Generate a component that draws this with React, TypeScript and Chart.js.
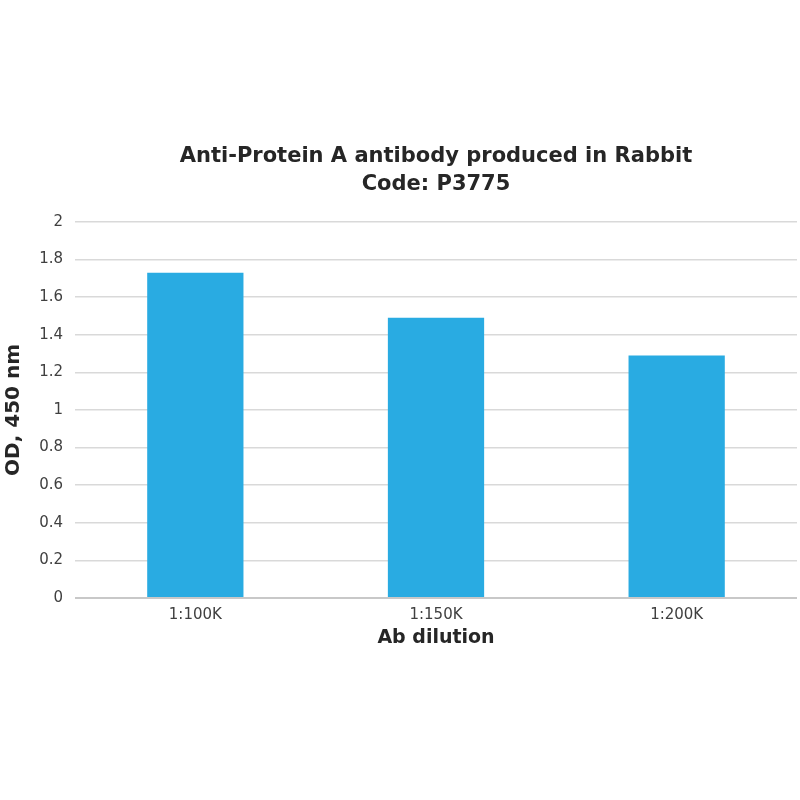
import React, { useRef, useEffect } from 'react';
import { Chart, registerables } from 'chart.js';

Chart.register(...registerables);

// Data
const dilutions = ['1:100K', '1:150K', '1:200K'];
const odValues = [1.73, 1.49, 1.29];
const titleLines = ['Anti-Protein A antibody produced in Rabbit', 'Code: P3775'];

const FONT = "'DejaVu Sans', Verdana, sans-serif";

const App = () => {
    const canvasRef = useRef<HTMLCanvasElement>(null);
    const chartRef = useRef<Chart | null>(null);

    useEffect(() => {
        const ctx = canvasRef.current?.getContext('2d');
        if (!ctx) return;
        if (chartRef.current) chartRef.current.destroy();

        chartRef.current = new Chart(ctx, {
            type: 'bar',
            data: {
                labels: dilutions,
                datasets: [
                    {
                        label: 'OD, 450 nm',
                        data: odValues,
                        backgroundColor: '#29ABE2',
                        barPercentage: 0.4,
                        categoryPercentage: 1,
                    },
                ],
            },
            options: {
                responsive: false,
                animation: false,
                layout: {
                    padding: { top: 143, right: 3, bottom: 142, left: 0 },
                },
                scales: {
                    x: {
                        grid: { display: false, drawTicks: false },
                        border: { display: false },
                        ticks: {
                            color: '#404040',
                            font: { family: FONT, size: 15 },
                            padding: 8,
                        },
                        title: {
                            display: true,
                            text: 'Ab dilution',
                            color: '#262626',
                            font: { family: FONT, size: 19, weight: 'bold' },
                            padding: { top: 0, bottom: 9 },
                        },
                        afterFit: (scale) => {
                            scale.height = 60;
                        },
                    },
                    y: {
                        min: 0,
                        max: 2,
                        grid: {
                            drawTicks: false,
                            color: (c) => (c.tick && c.tick.value === 0 ? '#c8c8c8' : '#d9d9d9'),
                            lineWidth: (c) => (c.tick && c.tick.value === 0 ? 2 : 1.5),
                        },
                        border: { display: false },
                        ticks: {
                            stepSize: 0.2,
                            color: '#404040',
                            font: { family: FONT, size: 15 },
                            padding: 12,
                            callback: (v) => String(Math.round(Number(v) * 10) / 10),
                        },
                        title: {
                            display: true,
                            text: 'OD, 450 nm',
                            color: '#262626',
                            font: { family: FONT, size: 20, weight: 'bold' },
                            padding: { top: 2, bottom: 0 },
                        },
                        afterFit: (scale) => {
                            scale.width = 75;
                        },
                    },
                },
                plugins: {
                    legend: { display: false },
                    tooltip: { enabled: false },
                    title: {
                        display: true,
                        fullSize: false,
                        text: titleLines,
                        color: '#262626',
                        font: { family: FONT, size: 21, weight: 'bold', lineHeight: 1.33 },
                        padding: { top: 0, bottom: 23 },
                    },
                },
            },
        });

        return () => {
            if (chartRef.current) {
                chartRef.current.destroy();
                chartRef.current = null;
            }
        };
    }, []);

    return (
        <div style={{ position: 'fixed', top: 0, left: 0, width: 800, height: 800, background: '#fff' }}>
            <canvas ref={canvasRef} width={800} height={800}></canvas>
        </div>
    );
};

export default App;
